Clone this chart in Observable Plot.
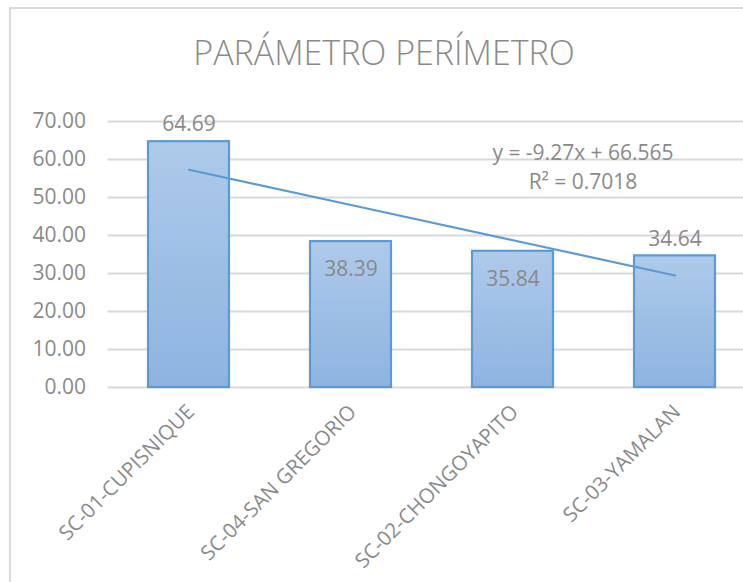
<!DOCTYPE html>
<html>
<head>
<meta charset="utf-8">
<script src="https://cdn.jsdelivr.net/npm/d3@7"></script>
<script src="https://cdn.jsdelivr.net/npm/@observablehq/plot@0.6"></script>
<style>
  html, body { margin: 0; padding: 0; background: #fff; overflow: hidden; width: 743px; height: 582px; }
  #frame { position: absolute; left: 9px; top: 7px; width: 900px; height: 900px; border: 2px solid #d9d9d9; box-sizing: border-box; }
  #wrap { position: absolute; left: 0; top: 0; width: 760px; }
  #title { height: 95px; box-sizing: border-box; padding-top: 30px; text-align: center; width: 768px;
           font-family: "Open Sans", sans-serif; font-size: 34px; color: #8a8a8a; line-height: 44px; font-weight: 300; }
  svg { display: block; }
</style>
</head>
<body>
<div id="frame"></div>
<div id="wrap">
  <div id="title">PARÁMETRO PERÍMETRO</div>
  <div id="chart"></div>
</div>
<script>
const categories = ["SC-01-CUPISNIQUE", "SC-04-SAN GREGORIO", "SC-02-CHONGOYAPITO", "SC-03-YAMALAN"];
const values = [64.69, 38.39, 35.84, 34.64];
const labelPlacement = ["outside", "inside", "inside", "outside"];
const yTicks = [0, 10, 20, 30, 40, 50, 60, 70];

const data = categories.map((c, i) => ({cat: c, value: values[i], place: labelPlacement[i], idx: i + 1}));

// linear trendline (Excel-style, x = 1..n)
const xs = values.map((_, i) => i + 1);
const xm = d3.mean(xs), ym = d3.mean(values);
const sxy = d3.sum(xs, (x, i) => (x - xm) * (values[i] - ym));
const sxx = d3.sum(xs, x => (x - xm) ** 2);
const slope = sxy / sxx;
const intercept = ym - slope * xm;
const sst = d3.sum(values, v => (v - ym) ** 2);
const r2 = (slope * slope * sxx) / sst;
const trend = data.map(d => ({cat: d.cat, fit: intercept + slope * d.idx}));
const eqLines = [`y = ${slope.toFixed(2)}x + ${intercept.toFixed(3)}`, `R² = ${r2.toFixed(4)}`];
const last = trend[trend.length - 1];

const font = "Open Sans, sans-serif";
const gray = "#8a8a8a";

const gradient = () => {
  const svg = d3.create("svg:defs");
  const g = svg.append("linearGradient").attr("id", "barGrad").attr("x1", 0).attr("y1", 0).attr("x2", 0).attr("y2", 1);
  g.append("stop").attr("offset", "0%").attr("stop-color", "#aecaea");
  g.append("stop").attr("offset", "100%").attr("stop-color", "#8db4e0");
  return svg.node();
};

const chart = Plot.plot({
  width: 756,
  height: 487,
  marginTop: 26,
  marginBottom: 195,
  marginLeft: 107.5,
  marginRight: 0,
  style: {fontFamily: font, background: "transparent", overflow: "visible"},
  x: {domain: categories, paddingInner: 0.5, paddingOuter: 0.25, label: null},
  y: {domain: [0, 70], ticks: yTicks, label: null},
  marks: [
    gradient,
    Plot.gridY(yTicks, {stroke: "#d9d9d9", strokeOpacity: 1, strokeWidth: 2}),
    Plot.axisY(yTicks, {tickSize: 0, tickPadding: 22, tickFormat: d => d.toFixed(2), fontSize: 21, fill: gray, label: null}),
    Plot.axisX({tickSize: 0, tickRotate: -45, tickPadding: 21, fontSize: 20.5, fill: gray, label: null, dx: 2}),
    Plot.barY(data, {x: "cat", y: "value", fill: "url(#barGrad)", stroke: "#5b9bd5", strokeWidth: 2.2}),
    Plot.line(trend, {x: "cat", y: "fit", stroke: "#5b9bd5", strokeWidth: 2.2}),
    Plot.text(data.filter(d => d.place === "outside"), {x: "cat", y: "value", text: d => d.value.toFixed(2), fontSize: 21, fill: gray, dy: -17}),
    Plot.text(data.filter(d => d.place === "inside"), {x: "cat", y: "value", text: d => d.value.toFixed(2), fontSize: 21, fill: gray, dy: 28}),
    Plot.text([last], {x: "cat", y: "fit", text: () => eqLines.join("\n"), lineHeight: 1.38, fontSize: 21, fill: gray,
      dx: -92, dy: -110, lineAnchor: "middle"})
  ]
});
document.getElementById("chart").appendChild(chart);
</script>
</body>
</html>
